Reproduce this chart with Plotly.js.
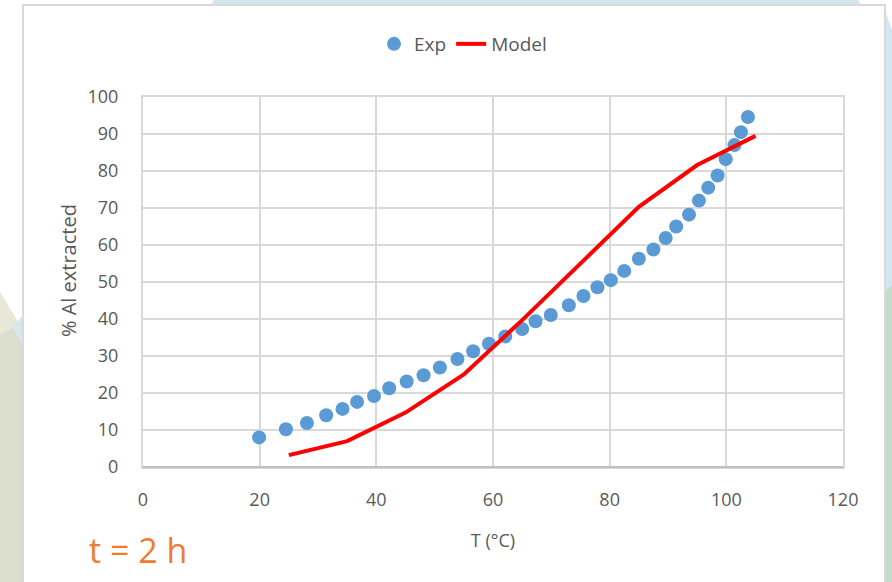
<!DOCTYPE html>
<html>
<head>
<meta charset="utf-8">
<script src="https://cdn.plot.ly/plotly-3.0.1.min.js"></script>
<style>html,body{margin:0;padding:0;background:#fff;}#chart{width:892px;height:582px;}</style>
</head>
<body>
<div id="chart"></div>
<script>
// Experimental data (T in °C, % Al extracted)
const expT = [19.9, 24.5, 28.1, 31.4, 34.2, 36.7, 39.6, 42.2, 45.2, 48.1, 50.9, 53.9, 56.6, 59.3, 62.1, 65.0, 67.3, 69.9, 73.0, 75.5, 77.9, 80.2, 82.5, 85.0, 87.5, 89.6, 91.4, 93.6, 95.3, 96.9, 98.5, 99.9, 101.4, 102.5, 103.7];
const expY = [8.0, 10.2, 11.9, 14.0, 15.7, 17.6, 19.2, 21.3, 23.1, 24.8, 26.9, 29.2, 31.3, 33.3, 35.3, 37.3, 39.4, 41.1, 43.7, 46.2, 48.6, 50.5, 53.0, 56.3, 58.8, 61.9, 65.0, 68.2, 72.0, 75.5, 78.8, 83.2, 87.0, 90.5, 94.6];
// Model curve
const modelT = [25, 35, 45, 55, 65, 75, 85, 95, 105];
const modelY = [3.2, 7.0, 14.7, 25.0, 39.7, 55.0, 70.3, 81.6, 89.5];

const seriesNames = ['Exp', 'Model'];
const xTitle = 'T (°C)';
const yTitle = '% Al extracted';
const noteText = 't = 2 h';

// plot area geometry in pixels (for decorative background placement)
const L = 143, R = 843, T = 97, B = 467;
const W = R - L, H = B - T;
const px = x => (x - L) / W;
const py = y => (B - y) / H;
function poly(pts) {
  return 'M ' + pts.map(p => px(p[0]).toFixed(5) + ' ' + py(p[1]).toFixed(5)).join(' L ') + ' Z';
}

const font = "'Open Sans', 'Noto Sans', sans-serif";
const grey = '#595959';

const traces = [
  {
    x: expT, y: expY, name: seriesNames[0], type: 'scatter', mode: 'markers',
    marker: {color: '#5b9bd5', size: 14}
  },
  {
    x: modelT, y: modelY, name: seriesNames[1], type: 'scatter', mode: 'lines',
    line: {color: '#ff0000', width: 4}
  }
];

const bgShapes = [
  {type: 'path', xref: 'paper', yref: 'paper', layer: 'below', path: poly([[214,0],[858,0],[862,6],[210,6]]), fillcolor: '#d5e7ee', line: {width: 0}},
  {type: 'path', xref: 'paper', yref: 'paper', layer: 'below', path: poly([[884,8],[892,30],[892,290],[884,292]]), fillcolor: '#d5e7ee', line: {width: 0}},
  {type: 'path', xref: 'paper', yref: 'paper', layer: 'below', path: poly([[884,292],[892,285],[892,582],[884,582]]), fillcolor: '#c2dcc7', line: {width: 0}},
  {type: 'path', xref: 'paper', yref: 'paper', layer: 'below', path: poly([[0,292],[23,330],[23,582],[0,582]]), fillcolor: '#e9e7d7', line: {width: 0}},
  {type: 'path', xref: 'paper', yref: 'paper', layer: 'below', path: poly([[12,328],[23,315],[23,360]]), fillcolor: '#d5e7ee', line: {width: 0}},
  {type: 'path', xref: 'paper', yref: 'paper', layer: 'below', path: poly([[0,335],[12,328],[23,345],[23,582],[0,582]]), fillcolor: '#dcdecd', line: {width: 0}},
  {type: 'rect', xref: 'paper', yref: 'paper', layer: 'below', x0: px(23), x1: px(885), y0: py(5), y1: py(600), fillcolor: '#ffffff', line: {color: '#d9d9d9', width: 2}},
  {type: 'line', xref: 'paper', yref: 'paper', layer: 'above', x0: 0, x1: 1, y0: 0, y1: 0, line: {color: '#bfbfbf', width: 2}}
];

const layout = {
  width: 892, height: 582,
  margin: {l: L, r: 892 - R, t: T, b: 582 - B, autoexpand: false},
  paper_bgcolor: '#ffffff',
  plot_bgcolor: 'rgba(0,0,0,0)',
  font: {family: font, color: grey, size: 18},
  showlegend: true,
  legend: {
    orientation: 'h', x: px(463), xanchor: 'center', y: py(44), yanchor: 'middle',
    font: {family: font, size: 19, color: grey}, bgcolor: 'rgba(0,0,0,0)',
    itemwidth: 30, tracegroupgap: 0
  },
  xaxis: {
    range: [0, 120], tick0: 0, dtick: 20, showgrid: true, gridcolor: '#d9d9d9', gridwidth: 2,
    zeroline: false, showline: true, mirror: true, linecolor: '#d9d9d9', linewidth: 2,
    ticks: 'outside', ticklen: 15, tickcolor: 'rgba(0,0,0,0)',
    tickfont: {family: font, size: 18, color: grey},
    title: {text: xTitle, font: {family: font, size: 18, color: grey}, standoff: 25}
  },
  yaxis: {
    range: [0, 100], tick0: 0, dtick: 10, showgrid: true, gridcolor: '#d9d9d9', gridwidth: 2,
    zeroline: false, showline: true, mirror: true, linecolor: '#d9d9d9', linewidth: 2,
    ticks: 'outside', ticklen: 19, tickcolor: 'rgba(0,0,0,0)',
    tickfont: {family: font, size: 18, color: grey}
  },
  shapes: bgShapes,
  annotations: [
    {text: yTitle, xref: 'paper', yref: 'paper', x: px(68), y: py(271), xanchor: 'center', yanchor: 'middle',
     textangle: -90, showarrow: false, font: {family: font, size: 20, color: grey}},
    {text: noteText, xref: 'paper', yref: 'paper', x: px(138), y: py(550), xanchor: 'center', yanchor: 'middle',
     showarrow: false, font: {family: font, size: 34, color: '#ed7d31'}}
  ]
};

Plotly.newPlot('chart', traces, layout, {displayModeBar: false, staticPlot: true});
</script>
</body>
</html>
